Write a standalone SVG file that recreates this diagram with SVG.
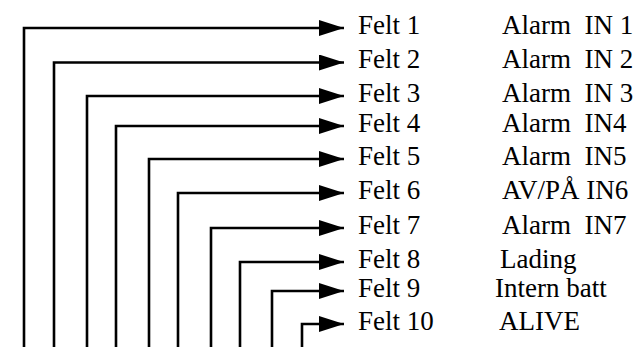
<svg xmlns="http://www.w3.org/2000/svg" width="644" height="347" viewBox="0 0 644 347">
<style>
.c{fill:none;stroke:#000;stroke-width:2.6;marker-end:url(#ah)}
</style>
<defs>
<marker id="ah" markerUnits="userSpaceOnUse" viewBox="0 0 25 16" refX="25" refY="8" markerWidth="25" markerHeight="16" orient="auto">
<path d="M0,0 L25,8 L0,16 Z" fill="#000"/>
</marker>
</defs>
<rect width="644" height="347" fill="#fff"/>
<g id="connectors">
<path class="c" d="M24,347 V28 H344"/>
<path class="c" d="M54,347 V62.5 H344"/>
<path class="c" d="M87,347 V96 H344"/>
<path class="c" d="M116,347 V126 H344"/>
<path class="c" d="M149,347 V159 H344"/>
<path class="c" d="M178,347 V193 H344"/>
<path class="c" d="M211,347 V228 H344"/>
<path class="c" d="M240,347 V262 H344"/>
<path class="c" d="M272,347 V291 H344"/>
<path class="c" d="M302,347 V324 H344"/>
</g>
<g font-size="27" fill="#000">
<g id="n1"><text x="358" y="34" font-family="Liberation Serif, serif">Felt 1</text><text x="502" y="34" font-family="Liberation Serif, serif" xml:space="preserve">Alarm  IN 1</text></g>
<g id="n2"><text x="358" y="68" font-family="Liberation Serif, serif">Felt 2</text><text x="502" y="68" font-family="Liberation Serif, serif" xml:space="preserve">Alarm  IN 2</text></g>
<g id="n3"><text x="358" y="102" font-family="Liberation Serif, serif">Felt 3</text><text x="502" y="102" font-family="Liberation Serif, serif" xml:space="preserve">Alarm  IN 3</text></g>
<g id="n4"><text x="358" y="132" font-family="Liberation Serif, serif">Felt 4</text><text x="502" y="132" font-family="Liberation Serif, serif" xml:space="preserve">Alarm  IN4</text></g>
<g id="n5"><text x="358" y="165" font-family="Liberation Serif, serif">Felt 5</text><text x="502" y="165" font-family="Liberation Serif, serif" xml:space="preserve">Alarm  IN5</text></g>
<g id="n6"><text x="358" y="199" font-family="Liberation Serif, serif">Felt 6</text><text x="502" y="199" font-family="Liberation Serif, serif">AV/PÅ IN6</text></g>
<g id="n7"><text x="358" y="234" font-family="Liberation Serif, serif">Felt 7</text><text x="502" y="234" font-family="Liberation Serif, serif" xml:space="preserve">Alarm  IN7</text></g>
<g id="n8"><text x="358" y="268" font-family="Liberation Serif, serif">Felt 8</text><text x="500" y="268" font-family="Liberation Serif, serif">Lading</text></g>
<g id="n9"><text x="358" y="297" font-family="Liberation Serif, serif">Felt 9</text><text x="495" y="297" font-family="Liberation Serif, serif">Intern batt</text></g>
<g id="n10"><text x="358" y="330" font-family="Liberation Serif, serif">Felt 10</text><text x="499" y="330" font-family="Liberation Serif, serif">ALIVE</text></g>
</g>
</svg>
